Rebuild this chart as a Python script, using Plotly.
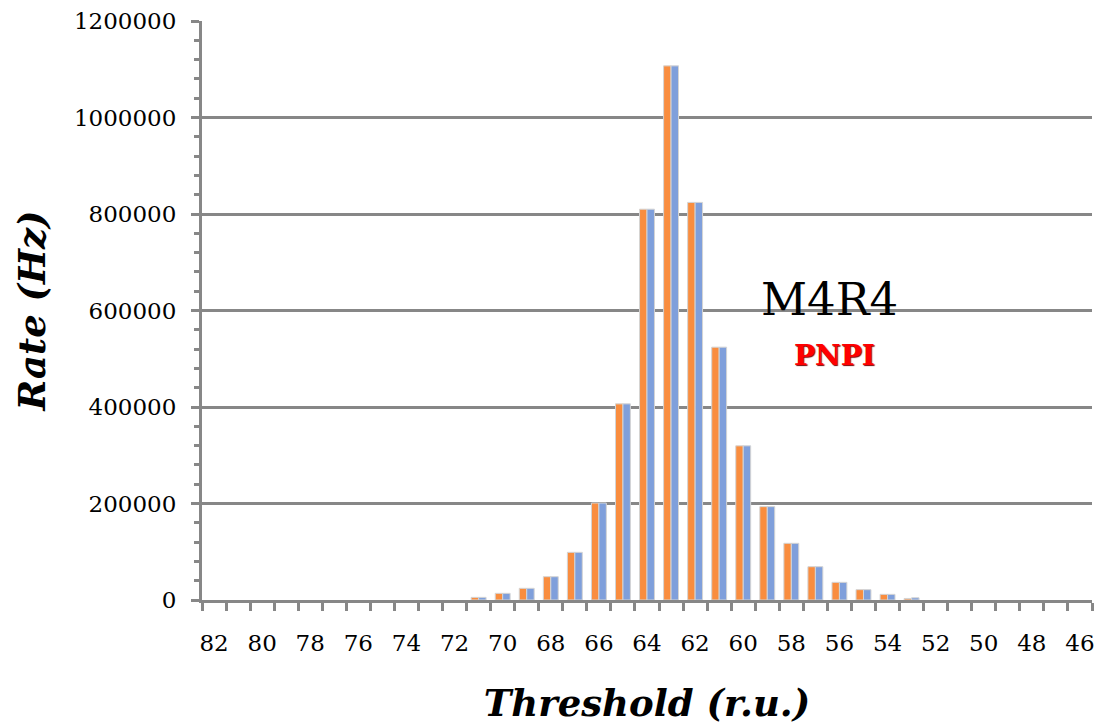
import plotly.graph_objects as go

# Threshold scan, categories from 82 down to 46 (r.u.)
thresholds = list(range(82, 45, -1))

# Counting rate (Hz) for the two scans at each threshold
rate_a = [0, 0, 0, 0, 0, 0, 0, 0, 0, 0, 0,
          5500, 13800, 24200, 48300, 98800, 201000, 406500, 810000,
          1107000, 824000, 524000, 319500, 193500, 117500, 69000, 36600,
          21400, 11700, 3200, 0, 0, 0, 0, 0, 0, 0]
rate_b = [0, 0, 0, 0, 0, 0, 0, 0, 0, 0, 0,
          5500, 13800, 24200, 48300, 98800, 201000, 406500, 810000,
          1107000, 824000, 524000, 319500, 193500, 117500, 69000, 36600,
          21400, 11700, 4600, 0, 0, 0, 0, 0, 0, 0]

x_labels = list(range(82, 45, -2))
y_ticks = list(range(0, 1200001, 200000))

ORANGE = "#F98D3F"
BLUE = "#7F9FDB"
GRID = "#878787"
FONT = "DejaVu Serif"
BAR_W = 0.31


def edge_widths(values):
    # thin light outline only on bars that actually have height
    return [1 if v > 0 else 0 for v in values]


fig = go.Figure()
# Axis is reversed: offset 0 puts the bar on the screen-left half of the slot
fig.add_trace(go.Bar(x=thresholds, y=rate_a, width=BAR_W, offset=0,
                     marker=dict(color=ORANGE,
                                 line=dict(color="#d4d4d4", width=edge_widths(rate_a))),
                     showlegend=False))
fig.add_trace(go.Bar(x=thresholds, y=rate_b, width=BAR_W, offset=-BAR_W,
                     marker=dict(color=BLUE,
                                 line=dict(color="#d4d4d4", width=edge_widths(rate_b))),
                     showlegend=False))

fig.update_layout(
    width=1099, height=725,
    margin=dict(l=202, r=4, t=21, b=125),
    paper_bgcolor="white", plot_bgcolor="white",
    barmode="overlay",
    font=dict(family=FONT, color="black"),
    xaxis=dict(
        range=[82.5, 45.5],
        tickmode="array", tickvals=x_labels, ticktext=[str(v) for v in x_labels],
        ticks="", tickfont=dict(size=23, family=FONT), ticklabelstandoff=20,
        showgrid=False, zeroline=False,
        showline=True, linecolor=GRID, linewidth=3,
        minor=dict(tickmode="linear", tick0=0.5, dtick=1, ticks="outside",
                   ticklen=8, tickwidth=3, tickcolor=GRID, showgrid=False),
        title=dict(text="<b><i>Threshold (r.u.)</i></b>",
                   font=dict(size=37, family=FONT), standoff=36),
    ),
    yaxis=dict(
        range=[0, 1200000],
        tickmode="array", tickvals=y_ticks, ticktext=[str(v) for v in y_ticks],
        ticks="outside", ticklen=8, tickwidth=3, tickcolor=GRID,
        tickfont=dict(size=23, family=FONT), ticklabelstandoff=10,
        showgrid=True, gridcolor=GRID, gridwidth=3,
        zeroline=False, showline=True, linecolor=GRID, linewidth=3,
        minor=dict(tickmode="linear", tick0=0, dtick=40000, ticks="outside",
                   ticklen=5, tickwidth=3, tickcolor=GRID, showgrid=False),
        title=dict(text="<b><i>Rate (Hz)</i></b>",
                   font=dict(size=37, family=FONT), standoff=18),
    ),
    annotations=[
        dict(text="M4R4", x=56.4, y=622000, xref="x", yref="y",
             showarrow=False, font=dict(size=45, family=FONT, color="black")),
        dict(text="<b>PNPI</b>", x=56.2, y=506000, xref="x", yref="y",
             showarrow=False,
             font=dict(size=28, family=FONT, color="#FF0000",
                       shadow="1px 1px 1px #7a0000")),
    ],
)

fig.write_html("out.html")
